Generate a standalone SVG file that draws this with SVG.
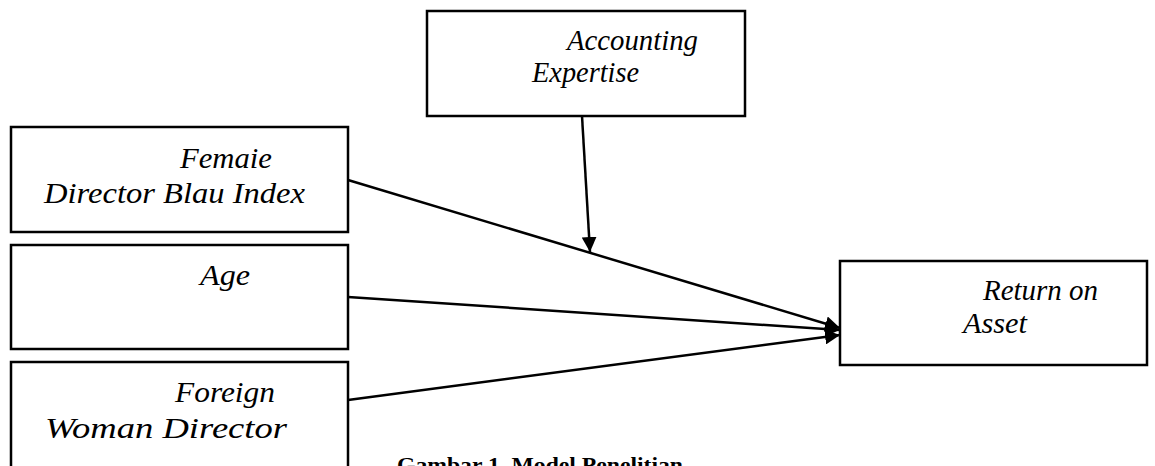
<svg xmlns="http://www.w3.org/2000/svg" width="1155" height="466" viewBox="0 0 1155 466">
<style>
.box{fill:#fff;stroke:#000;stroke-width:2.5}
.t{font-family:"Liberation Serif","Times New Roman",serif;font-style:italic;font-size:29px;fill:#000}
.cap{font-family:"Liberation Serif","Times New Roman",serif;font-weight:bold;font-size:22px;fill:#000}
.ln{stroke:#000;stroke-width:2.5;fill:none}
</style>
<defs>
<marker id="ah" viewBox="0 0 10 10" refX="10" refY="5" markerWidth="6" markerHeight="6" markerUnits="strokeWidth" orient="auto">
<path d="M0,0 L10,5 L0,10 z" fill="#000"/>
</marker>
</defs>
<rect width="1155" height="466" fill="#fff"/>
<g id="accounting">
<rect class="box" x="427" y="11" width="318" height="105"/>
<text class="t" x="567" y="50" textLength="131" lengthAdjust="spacingAndGlyphs">Accounting</text>
<text class="t" x="532" y="82" textLength="107" lengthAdjust="spacingAndGlyphs">Expertise</text>
</g>
<g id="female">
<rect class="box" x="11" y="127" width="337" height="105"/>
<text class="t" x="180" y="168" textLength="92" lengthAdjust="spacingAndGlyphs">Femaie</text>
<text class="t" x="44" y="203" textLength="261" lengthAdjust="spacingAndGlyphs">Director Blau Index</text>
</g>
<g id="age">
<rect class="box" x="11" y="245" width="337" height="104"/>
<text class="t" x="200" y="285" textLength="50" lengthAdjust="spacingAndGlyphs">Age</text>
</g>
<g id="foreign">
<rect class="box" x="11" y="362" width="337" height="110"/>
<text class="t" x="175" y="402" textLength="100" lengthAdjust="spacingAndGlyphs">Foreign</text>
<text class="t" x="45" y="438" textLength="242" lengthAdjust="spacingAndGlyphs">Woman Director</text>
</g>
<g id="roa">
<rect class="box" x="840" y="261" width="307" height="104"/>
<text class="t" x="983" y="300" textLength="115" lengthAdjust="spacingAndGlyphs">Return on</text>
<text class="t" x="963" y="333" textLength="64" lengthAdjust="spacingAndGlyphs">Asset</text>
</g>
<g id="connectors">
<line class="ln" x1="582" y1="116" x2="590" y2="252" marker-end="url(#ah)"/>
<line class="ln" x1="348" y1="180" x2="840" y2="328" marker-end="url(#ah)"/>
<line class="ln" x1="348" y1="297" x2="840" y2="330" marker-end="url(#ah)"/>
<line class="ln" x1="348" y1="400" x2="840" y2="335" marker-end="url(#ah)"/>
</g>
<text class="cap" x="397" y="472" textLength="286" lengthAdjust="spacingAndGlyphs">Gambar 1. Model Penelitian</text>
</svg>
